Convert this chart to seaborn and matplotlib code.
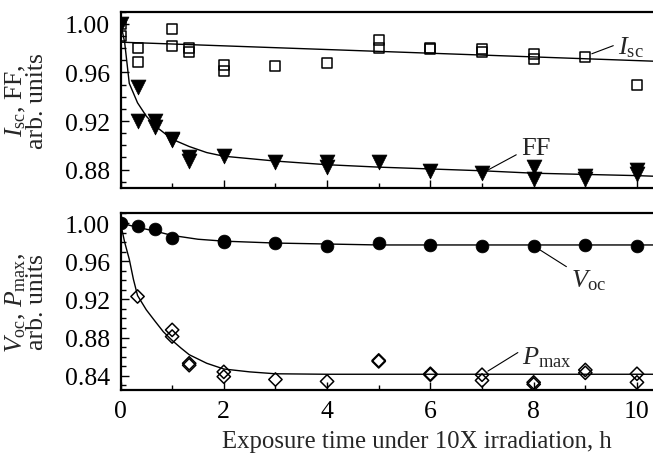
import pandas as pd
import matplotlib.pyplot as plt
import seaborn as sns
from matplotlib.ticker import MultipleLocator, FormatStrFormatter

# measured points, time in hours
t_isc = [0, 0, 0.33, 0.33, 1, 1, 1.33, 1.33, 2, 2, 3, 4, 5, 5, 6, 6, 7, 7, 8, 8, 9, 10]
isc = [1.000, 0.990, 0.980, 0.969, 0.996, 0.982, 0.980, 0.977, 0.966, 0.961, 0.965,
       0.968, 0.987, 0.980, 0.980, 0.979, 0.979, 0.977, 0.975, 0.971, 0.973, 0.950]

t_ff = [0, 0.33, 0.33, 0.67, 0.67, 1, 1, 1.33, 1.33, 2, 3, 4, 4, 5, 6, 7, 8, 8, 9, 9, 10, 10]
ff = [1.000, 0.948, 0.920, 0.920, 0.915, 0.905, 0.904, 0.890, 0.887, 0.891, 0.8865,
      0.8865, 0.882, 0.886, 0.879, 0.877, 0.882, 0.872, 0.875, 0.872, 0.880, 0.876]

t_voc = [0, 0.33, 0.67, 1, 2, 2, 3, 4, 5, 6, 7, 8, 9, 10]
voc = [1.000, 0.9965, 0.994, 0.984, 0.981, 0.980, 0.979, 0.976, 0.979, 0.977,
       0.976, 0.976, 0.977, 0.976]

t_pmax = [0, 0.33, 1, 1, 1.33, 1.33, 2, 2, 3, 4, 5, 5, 6, 6, 7, 7, 8, 8, 9, 9, 10, 10]
pmax = [1.000, 0.923, 0.888, 0.881, 0.853, 0.851, 0.844, 0.839, 0.836, 0.834, 0.856,
        0.855, 0.842, 0.841, 0.841, 0.835, 0.833, 0.831, 0.846, 0.843, 0.842, 0.833]

# fitted curves
t_isc_fit = [0, 10.33]
isc_fit = [0.985, 0.9693]

t_ff_fit = [0, 0.04, 0.08, 0.17, 0.33, 0.5, 0.67, 1, 1.33, 1.67, 2, 2.5, 3, 4, 5, 6, 7, 8, 9, 10, 10.33]
ff_fit = [1.000, 0.993, 0.985, 0.951, 0.935, 0.924, 0.916, 0.905, 0.899, 0.894, 0.891,
          0.889, 0.887, 0.884, 0.882, 0.8805, 0.879, 0.877, 0.876, 0.875, 0.8745]

t_voc_fit = [0, 0.33, 0.67, 1, 1.5, 2, 3, 4, 5, 10.33]
voc_fit = [1.000, 0.9955, 0.9915, 0.987, 0.983, 0.981, 0.979, 0.978, 0.977, 0.977]

t_pmax_fit = [0, 0.08, 0.17, 0.25, 0.33, 0.5, 0.67, 0.83, 1, 1.17, 1.33, 1.67, 2, 2.5, 3, 4, 5, 10.33]
pmax_fit = [1.000, 0.980, 0.962, 0.941, 0.924, 0.909, 0.897, 0.886, 0.877, 0.869, 0.862,
            0.853, 0.847, 0.844, 0.842, 0.8415, 0.8415, 0.8415]

sns.set_style("ticks")
plt.rcParams['font.family'] = ['Liberation Serif', 'DejaVu Serif']
plt.rcParams['mathtext.fontset'] = 'custom'
plt.rcParams['mathtext.rm'] = 'Liberation Serif'
plt.rcParams['mathtext.it'] = 'Liberation Serif:italic'

fig = plt.figure(figsize=(6.53, 4.60), dpi=100)
W, H = 653, 460
x0 = 120.5
ax1 = fig.add_axes([x0 / W, 1 - 189 / H, (W - x0 + 1) / W, (189 - 12.7) / H])
ax2 = fig.add_axes([x0 / W, 1 - 391 / H, (W - x0 + 1) / W, (391 - 214) / H])

def scatter(ax, t, v, marker, size, filled):
    df = pd.DataFrame({'t': t, 'v': v})
    if filled:
        sns.scatterplot(data=df, x='t', y='v', ax=ax, marker=marker, s=size,
                        color='black', edgecolor='black', linewidth=0.5, zorder=3)
    else:
        sns.scatterplot(data=df, x='t', y='v', ax=ax, marker=marker, s=size,
                        facecolor='none', edgecolor='black', linewidth=1.1, zorder=3)

def fitline(ax, t, v):
    df = pd.DataFrame({'t': t, 'v': v})
    sns.lineplot(data=df, x='t', y='v', ax=ax, color='black', lw=1.0,
                 estimator=None, sort=False, zorder=2)

fitline(ax1, t_isc_fit, isc_fit)
fitline(ax1, t_ff_fit, ff_fit)
scatter(ax1, t_isc, isc, 's', 52, False)
scatter(ax1, t_ff, ff, 'v', 115, True)

fitline(ax2, t_voc_fit, voc_fit)
fitline(ax2, t_pmax_fit, pmax_fit)
scatter(ax2, t_voc, voc, 'o', 85, True)
scatter(ax2, t_pmax, pmax, 'D', 46, False)

ax1.set_ylim(0.8648, 1.0101)
ax2.set_ylim(0.825, 1.0105)

for ax in (ax1, ax2):
    ax.set_xlim(0, 10.33)
    ax.xaxis.set_major_locator(MultipleLocator(2))
    ax.xaxis.set_minor_locator(MultipleLocator(1))
    ax.yaxis.set_major_locator(MultipleLocator(0.04))
    ax.yaxis.set_minor_locator(MultipleLocator(0.01))
    ax.yaxis.set_major_formatter(FormatStrFormatter('%.2f'))
    ax.tick_params(which='both', direction='in', top=False, right=False,
                   labelsize=18.5, width=1.0, pad=7.5, colors='black')
    ax.tick_params(which='major', length=6)
    ax.tick_params(which='minor', length=3.5)
    for sp in ax.spines.values():
        sp.set_linewidth(1.6)
        sp.set_color('black')

ax1.tick_params(labelbottom=False)
ax1.set_xlabel('')
ax1.set_ylabel('$I_{\\rm sc}$, FF,\narb. units', fontsize=18.5, linespacing=0.9)
ax2.set_ylabel('$V_{\\rm oc}$, $P_{\\rm max}$,\narb. units', fontsize=18.5, linespacing=0.9)
ax1.yaxis.set_label_coords(-0.135, 0.5)
ax2.yaxis.set_label_coords(-0.135, 0.5)
ax2.set_xlabel('Exposure time under 10X irradiation, h', fontsize=17.8)
ax2.xaxis.set_label_coords(0.556, -0.225)

lead = dict(arrowstyle='-', color='black', lw=0.8, shrinkA=1, shrinkB=5)
ax1.annotate('$I_{\\rm sc}$', xy=(9, 0.9734), xytext=(9.63, 0.9815), fontsize=19,
             ha='left', va='center', arrowprops=dict(lead, relpos=(0, 0.6)))
ax1.annotate('FF', xy=(7, 0.877), xytext=(7.75, 0.8978), fontsize=19,
             ha='left', va='center', arrowprops=dict(lead, relpos=(0, 0.3)))
ax2.annotate('$V_{\\rm oc}$', xy=(8, 0.976), xytext=(8.72, 0.941), fontsize=19,
             ha='left', va='center', arrowprops=dict(lead, relpos=(0, 0.9)))
ax2.annotate('$P_{\\rm max}$', xy=(7, 0.841), xytext=(7.78, 0.8594), fontsize=19,
             ha='left', va='center', arrowprops=dict(lead, relpos=(0, 0.8)))

fig.savefig('out.png', dpi=100)
